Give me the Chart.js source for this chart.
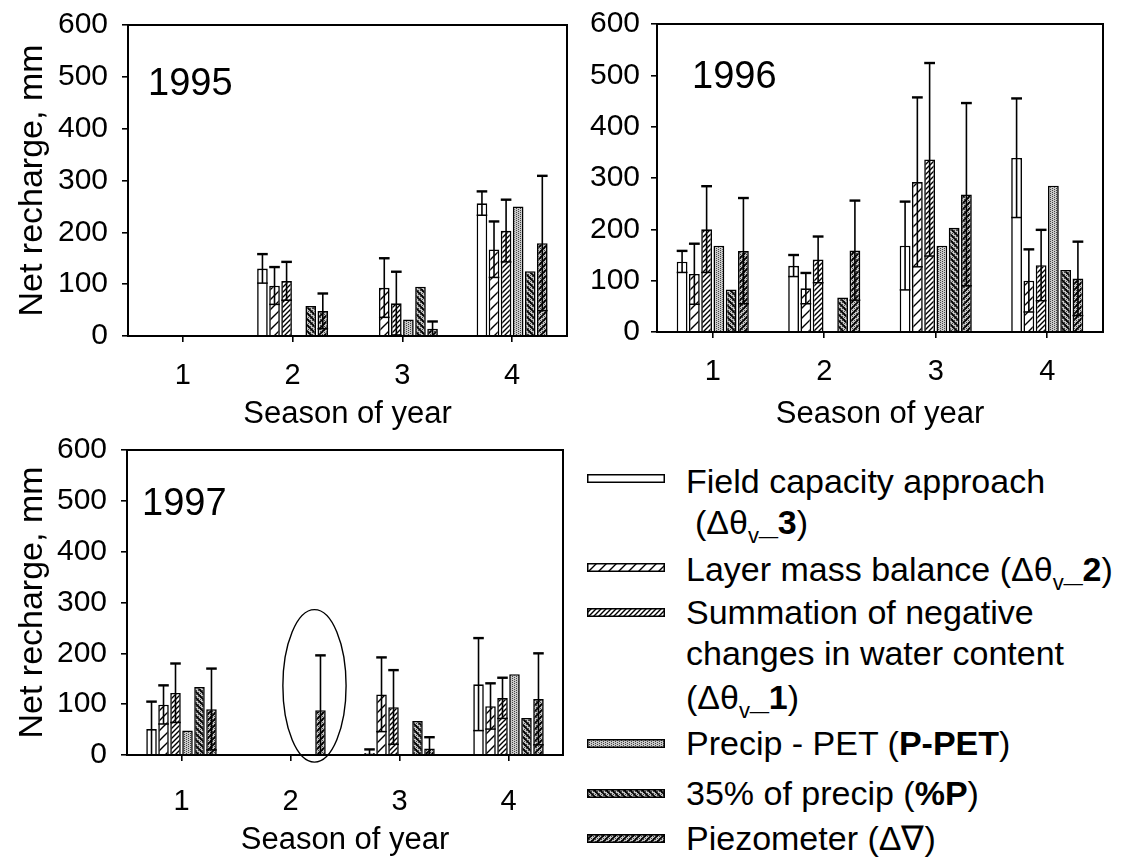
<!DOCTYPE html>
<html>
<head>
<meta charset="utf-8">
<script src="https://cdn.jsdelivr.net/npm/chart.js@4.4.1/dist/chart.umd.min.js"></script>
<style>
  body { margin: 0; background: #fff; width: 1125px; height: 861px; overflow: hidden; position: relative;
         font-family: 'Liberation Sans', Arial, sans-serif; }
  canvas.panel { position: absolute; }
  .lg { position: absolute; white-space: nowrap; font-size: 34px; line-height: 40px; color: #000; }
  .lg sub { font-size: 22px; vertical-align: -9px; line-height: 0; }
  .sw { position: absolute; left: 587px; }
</style>
</head>
<body>
<canvas id="c95" class="panel" style="left:0;top:0" width="590" height="440"></canvas>
<canvas id="c96" class="panel" style="left:560px;top:0" width="565" height="440"></canvas>
<canvas id="c97" class="panel" style="left:0;top:430px" width="590" height="431"></canvas>

<canvas class="sw" id="sw0" width="78" height="9" style="top:474px"></canvas>
<canvas class="sw" id="sw1" width="78" height="9" style="top:563px"></canvas>
<canvas class="sw" id="sw2" width="78" height="9" style="top:608px"></canvas>
<canvas class="sw" id="sw3" width="78" height="9" style="top:739px"></canvas>
<canvas class="sw" id="sw4" width="78" height="9" style="top:789px"></canvas>
<canvas class="sw" id="sw5" width="78" height="9" style="top:834px"></canvas>

<div class="lg" style="left:686px;top:461px">Field capacity approach</div>
<div class="lg" style="left:695px;top:502px">(&Delta;&theta;<sub>v</sub><b>_3</b>)</div>
<div class="lg" style="left:686px;top:549px">Layer mass balance (&Delta;&theta;<sub>v</sub><b>_2</b>)</div>
<div class="lg" style="left:686px;top:592px">Summation of negative</div>
<div class="lg" style="left:686px;top:633px">changes in water content</div>
<div class="lg" style="left:686px;top:677px">(&Delta;&theta;<sub>v</sub><b>_1</b>)</div>
<div class="lg" style="left:686px;top:723px">Precip - PET (<b>P-PET</b>)</div>
<div class="lg" style="left:686px;top:773px">35% of precip (<b>%P</b>)</div>
<div class="lg" style="left:686px;top:818px">Piezometer (&Delta;&nabla;)</div>

<script>
const seasons = ["1", "2", "3", "4"];
const seriesNames = [
  "Field capacity approach", "Layer mass balance", "Summation of negative changes",
  "Precip - PET", "35% of precip", "Piezometer"
];

// 1995
const fieldCap95 = [null, 130, null, 256];
const fieldCap95Err = [0, 28, 0, 23];
const layerMass95 = [null, 97, 93, 167];
const layerMass95Err = [0, 36, 57, 54];
const negSum95 = [null, 106, 63, 203];
const negSum95Err = [0, 37, 61, 60];
const precipPet95 = [null, null, 32, 250];
const pctPrecip95 = [null, 58, 95, 125];
const piezo95 = [null, 48, 14, 179];
const piezo95Err = [0, 34, 14, 130];

// 1996
const fieldCap96 = [137, 129, 168, 339];
const fieldCap96Err = [21, 21, 86, 116];
const layerMass96 = [113, 85, 292, 100];
const layerMass96Err = [59, 30, 165, 61];
const negSum96 = [200, 141, 336, 130];
const negSum96Err = [84, 45, 188, 69];
const precipPet96 = [168, null, 168, 285];
const pctPrecip96 = [83, 67, 203, 121];
const piezo96 = [158, 159, 268, 104];
const piezo96Err = [103, 97, 178, 72];

// 1997
const fieldCap97 = [51, null, 4, 139];
const fieldCap97Err = [54, 0, 7, 91];
const layerMass97 = [99, null, 119, 96];
const layerMass97Err = [38, 0, 73, 45];
const negSum97 = [122, null, 94, 112];
const negSum97Err = [58, 0, 73, 40];
const precipPet97 = [48, null, null, 159];
const pctPrecip97 = [134, null, 67, 73];
const piezo97 = [90, 88, 13, 110];
const piezo97Err = [80, 108, 22, 90];

const FONT = "'Liberation Sans', Arial, sans-serif";

function diagTile(ctx, s, dir) {
  ctx.beginPath();
  if (dir === "/") {
    ctx.moveTo(-1, 1); ctx.lineTo(1, -1);
    ctx.moveTo(0, s); ctx.lineTo(s, 0);
    ctx.moveTo(s - 1, s + 1); ctx.lineTo(s + 1, s - 1);
  } else {
    ctx.moveTo(-1, s - 1); ctx.lineTo(1, s + 1);
    ctx.moveTo(0, 0); ctx.lineTo(s, s);
    ctx.moveTo(s - 1, -1); ctx.lineTo(s + 1, 1);
  }
  ctx.stroke();
}

function stipple(ctx, s) {
  ctx.fillStyle = "#c8c8c8";
  ctx.fillRect(0, 0, s, s);
  ctx.fillStyle = "#444";
  for (let i = 0; i < s; i += 2)
    for (let j = (i / 2) % 2; j < s; j += 2) ctx.fillRect(i, j, 1, 1);
}

function makePattern(kind) {
  if (kind === "plain") return "#ffffff";
  const c = document.createElement("canvas");
  const s = { sparse: 10, dense: 5, dots: 4, back: 6, piezo: 6 }[kind];
  c.width = s; c.height = s;
  const g = c.getContext("2d");
  g.strokeStyle = "#000";
  if (kind === "sparse" || kind === "dense") {
    g.fillStyle = "#fff"; g.fillRect(0, 0, s, s);
    g.lineWidth = 1.4;
    diagTile(g, s, "/");
  } else if (kind === "dots") {
    stipple(g, s);
  } else if (kind === "back") {
    stipple(g, s);
    g.lineWidth = 1.8;
    diagTile(g, s, "\\");
  } else {
    stipple(g, s);
    g.lineWidth = 1.7;
    diagTile(g, s, "/");
  }
  return g.createPattern(c, "repeat");
}

const kinds = ["plain", "sparse", "dense", "dots", "back", "piezo"];
const fills = kinds.map(makePattern);

// legend swatches
kinds.forEach((k, i) => {
  const cv = document.getElementById("sw" + i);
  const g = cv.getContext("2d");
  g.fillStyle = fills[i];
  g.fillRect(0, 0, cv.width, cv.height);
  g.strokeStyle = "#000"; g.lineWidth = 1.5;
  g.strokeRect(0.75, 0.75, cv.width - 1.5, cv.height - 1.5);
});

const errorBars = {
  id: "errorBars",
  afterDatasetsDraw(chart) {
    const { ctx } = chart;
    const y = chart.scales.y;
    ctx.save();
    ctx.strokeStyle = "#000";
    chart.data.datasets.forEach((ds, i) => {
      if (!ds.errors) return;
      chart.getDatasetMeta(i).data.forEach((bar, j) => {
        const v = ds.data[j], e = ds.errors[j];
        if (v == null || !e) return;
        const top = y.getPixelForValue(v + e);
        const lowVal = v - e;
        const low = y.getPixelForValue(Math.max(0, lowVal));
        const half = bar.width / 2;
        ctx.lineWidth = 1.6;
        ctx.beginPath();
        ctx.moveTo(bar.x, low); ctx.lineTo(bar.x, top);
        ctx.stroke();
        ctx.lineWidth = 2.4;
        ctx.beginPath();
        ctx.moveTo(bar.x - half, top); ctx.lineTo(bar.x + half, top);
        ctx.stroke();
        if (lowVal > 0) {
          ctx.lineWidth = 1.5;
          ctx.beginPath();
          ctx.moveTo(bar.x - half, low); ctx.lineTo(bar.x + half, low);
          ctx.stroke();
        }
      });
    });
    ctx.restore();
  }
};

const frame = {
  id: "frame",
  afterDraw(chart) {
    const { ctx, chartArea: a } = chart;
    ctx.save();
    ctx.strokeStyle = "#000";
    ctx.lineWidth = 2;
    ctx.strokeRect(a.left, a.top, a.right - a.left, a.bottom - a.top);
    ctx.restore();
  }
};

const yearLabel = {
  id: "yearLabel",
  afterDraw(chart, args, opts) {
    if (!opts.text) return;
    const { ctx, chartArea: a } = chart;
    ctx.save();
    ctx.fillStyle = "#000";
    ctx.font = "38px " + FONT;
    ctx.textBaseline = "middle";
    ctx.fillText(opts.text, a.left + opts.dx, a.top + opts.dy);
    ctx.restore();
  }
};

const ring = {
  id: "ring",
  afterDraw(chart, args, opts) {
    if (!opts.show) return;
    const { ctx } = chart;
    const x = chart.scales.x, y = chart.scales.y;
    const cx = x.getPixelForValue(opts.x);
    const rx = Math.abs(x.getPixelForValue(opts.x + opts.rx) - cx);
    const cy = y.getPixelForValue(opts.y);
    const ry = Math.abs(y.getPixelForValue(opts.y + opts.ry) - cy);
    ctx.save();
    ctx.strokeStyle = "#000";
    ctx.lineWidth = 1.4;
    ctx.beginPath();
    ctx.ellipse(cx, cy, rx, ry, 0, 0, Math.PI * 2);
    ctx.stroke();
    ctx.restore();
  }
};

function buildPanel(id, series, errs, cfg) {
  const ctx = document.getElementById(id).getContext("2d");
  return new Chart(ctx, {
    type: "bar",
    data: {
      labels: seasons,
      datasets: series.map((d, i) => ({
        label: seriesNames[i],
        data: d,
        errors: errs[i],
        backgroundColor: fills[i],
        borderColor: "#000",
        borderWidth: 1.6,
        categoryPercentage: 0.66,
        barPercentage: 0.88
      }))
    },
    options: {
      responsive: false,
      animation: false,
      layout: { padding: cfg.padding },
      plugins: {
        legend: { display: false },
        tooltip: { enabled: false },
        yearLabel: { text: cfg.year, dx: cfg.yearDx, dy: cfg.yearDy },
        ring: cfg.ring || { show: false }
      },
      scales: {
        x: {
          afterFit: s => { s.height = cfg.xHeight; },
          grid: { offset: false, drawOnChartArea: false, tickLength: 6, color: "#000", lineWidth: 1.6 },
          border: { display: false },
          ticks: { color: "#000", padding: cfg.xPad, font: { family: FONT, size: 29, lineHeight: 1.2 } },
          title: { display: true, text: "Season of year", color: "#000", padding: 0,
                   font: { family: FONT, size: 31, lineHeight: 1.2 } }
        },
        y: {
          min: 0, max: 600,
          afterFit: s => { s.width = cfg.yWidth; },
          grid: { drawOnChartArea: false, tickLength: 6, color: "#000", lineWidth: 1.6 },
          border: { display: false },
          ticks: { stepSize: 100, color: "#000", padding: cfg.yPad, font: { family: FONT, size: 30, lineHeight: 0.4 } },
          title: { display: cfg.yTitle, text: "Net recharge, mm", color: "#000", padding: 0,
                   font: { family: FONT, size: 34, lineHeight: 1.2 } }
        }
      }
    },
    plugins: [errorBars, frame, yearLabel, ring]
  });
}

buildPanel("c95",
  [fieldCap95, layerMass95, negSum95, precipPet95, pctPrecip95, piezo95],
  [fieldCap95Err, layerMass95Err, negSum95Err, null, null, piezo95Err],
  { padding: { left: 12, top: 25, right: 23, bottom: 7 }, yWidth: 116, xHeight: 97,
    xPad: 17, yPad: 14, yTitle: true, year: "1995", yearDx: 20, yearDy: 60 });

buildPanel("c96",
  [fieldCap96, layerMass96, negSum96, precipPet96, pctPrecip96, piezo96],
  [fieldCap96Err, layerMass96Err, negSum96Err, null, null, piezo96Err],
  { padding: { left: 0, top: 24, right: 22, bottom: 7 }, yWidth: 97, xHeight: 101,
    xPad: 17, yPad: 11, yTitle: false, year: "1996", yearDx: 35, yearDy: 54 });

buildPanel("c97",
  [fieldCap97, layerMass97, negSum97, precipPet97, pctPrecip97, piezo97],
  [fieldCap97Err, layerMass97Err, negSum97Err, null, null, piezo97Err],
  { padding: { left: 12, top: 20, right: 27, bottom: 2 }, yWidth: 115, xHeight: 104,
    xPad: 24, yPad: 14, yTitle: true, year: "1997", yearDx: 15, yearDy: 55,
    ring: { show: true, x: 1.22, rx: 0.29, y: 136, ry: 150 } });
</script>
</body>
</html>
